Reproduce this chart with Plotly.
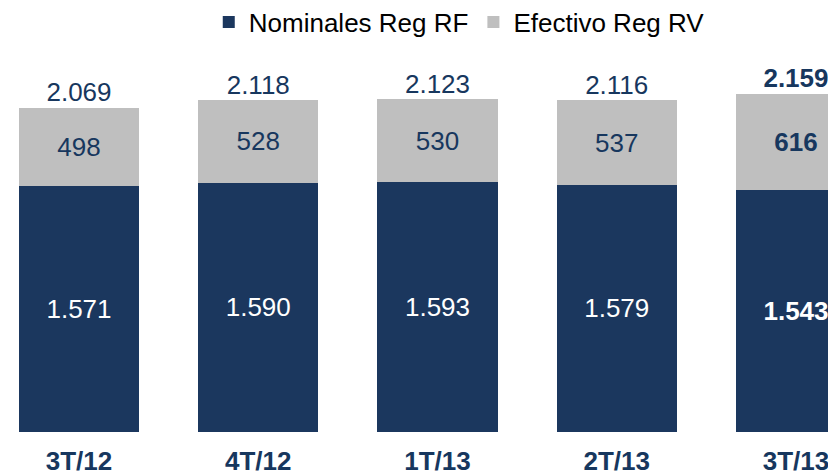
import plotly.graph_objects as go

categories = ["3T/12", "4T/12", "1T/13", "2T/13", "3T/13"]
nominales_rf = [1571, 1590, 1593, 1579, 1543]
efectivo_rv = [498, 528, 530, 537, 616]
totals = [2069, 2118, 2123, 2116, 2159]

DARK = "#1B375E"
GREY = "#BFBFBF"
TXT = "#17375E"
FONT = "Liberation Sans, Arial, sans-serif"

tmpl = ["%{y:,.0f}"] * 4 + ["<b>%{y:,.0f}</b>"]
tot_tmpl = ["%{text}"] * 4 + ["<b>%{text}</b>"]

fig = go.Figure()
fig.add_trace(go.Bar(
    x=categories, y=nominales_rf, name="Nominales Reg RF",
    marker=dict(color=DARK, line=dict(width=0)),
    texttemplate=tmpl, textposition="inside", insidetextanchor="middle",
    textangle=0, constraintext="none",
    textfont=dict(family=FONT, size=26, color="white"),
))
fig.add_trace(go.Bar(
    x=categories, y=efectivo_rv, name="Efectivo Reg RV",
    marker=dict(color=GREY, line=dict(width=0)),
    texttemplate=tmpl, textposition="inside", insidetextanchor="middle",
    textangle=0, constraintext="none",
    textfont=dict(family=FONT, size=26, color=TXT),
))
fig.add_trace(go.Scatter(
    x=categories, y=totals, mode="text",
    text=[f"{v:,}".replace(",", ".") for v in totals],
    texttemplate=tot_tmpl, textposition="top center",
    textfont=dict(family=FONT, size=26, color=TXT),
    showlegend=False, cliponaxis=False, hoverinfo="skip",
))

fig.update_layout(
    barmode="stack",
    bargap=0.33,
    separators=",.",
    width=828, height=467,
    margin=dict(l=0, r=0, t=52, b=43, autoexpand=False),
    plot_bgcolor="white", paper_bgcolor="white",
    font=dict(family=FONT, color="black"),
    legend=dict(
        orientation="h", x=0.545, xanchor="center",
        yref="container", y=0.970, yanchor="middle",
        font=dict(family=FONT, size=26, color="black"),
        traceorder="normal",
    ),
    xaxis=dict(
        type="category", range=[-0.3961, 4.2232],
        showgrid=False, showline=False, zeroline=False, ticks="",
        automargin=False,
        tickfont=dict(family="Liberation Sans Narrow, Arial Narrow, Liberation Sans, Arial", size=26, color=TXT),
        ticklabelstandoff=11,
        tickprefix="<b>", ticksuffix="</b>",
    ),
    yaxis=dict(
        range=[0, 2374], visible=False, showgrid=False, zeroline=False,
        automargin=False,
    ),
)

fig.write_html("out.html")
